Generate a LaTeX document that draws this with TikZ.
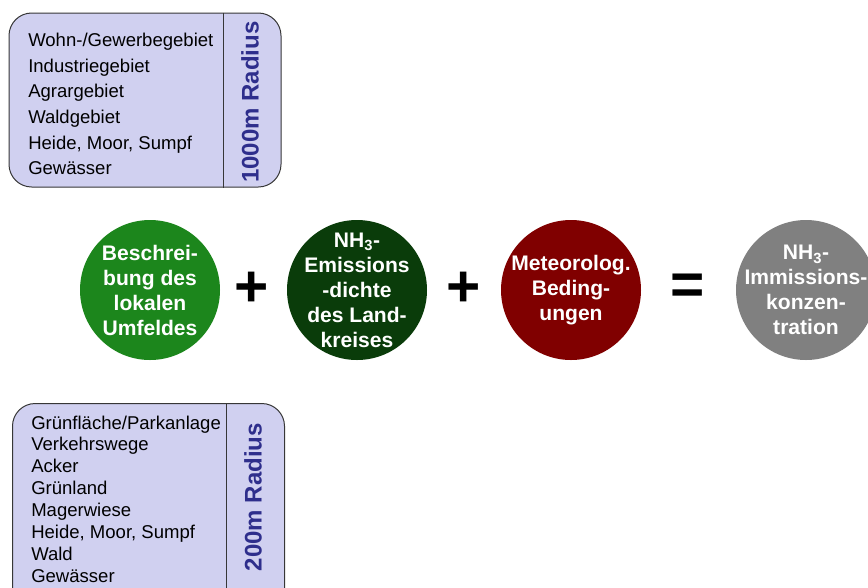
\documentclass[tikz,border=0pt]{standalone}
\usepackage{fontspec}
\setmainfont{Liberation Sans}
\usetikzlibrary{positioning}
\definecolor{umfeldGreen}{RGB}{28,134,28}
\definecolor{kreisDarkGreen}{RGB}{10,60,10}
\definecolor{meteoRed}{RGB}{128,0,0}
\definecolor{immisGray}{RGB}{128,128,128}
\definecolor{radiusFill}{RGB}{208,208,240}
\definecolor{radiusBlue}{RGB}{46,46,140}
\definecolor{radiusBorder}{RGB}{55,55,55}

\begin{document}
\begin{tikzpicture}[
  x=0.75pt, y=-0.75pt,
  listbox/.style={draw=radiusBorder, fill=radiusFill, rounded corners=17pt,
                  line width=0.75pt, inner sep=0pt},
  items/.style={align=left, anchor=west, inner sep=0pt},
  radiuslabel/.style={rotate=90, text=radiusBlue, inner sep=0pt,
                      font=\fontsize{18}{18}\selectfont\bfseries},
  factor/.style={circle, minimum size=105pt, inner sep=0pt},
  factortext/.style={inner sep=0pt, text=white, align=center,
                     font=\fontsize{15.8}{18.75}\selectfont\bfseries},
  op/.style={inner sep=0pt, font=\fontsize{44}{44}\selectfont\bfseries}
]
\clip (0,0) rectangle (868,587);

% 1000 m radius
\node[listbox, minimum width=204pt, minimum height=130.5pt] (box1000) at (145,100) {};
\coordinate (cut1000) at (223,0);
\draw[radiusBorder, line width=0.75pt] (box1000.north -| cut1000) -- (box1000.south -| cut1000);
\node[items, font=\fontsize{13.9}{19.2}\selectfont] (list1000) at (28,104)
  {Wohn-/Gewerbegebiet\\Industriegebiet\\Agrargebiet\\Waldgebiet\\Heide, Moor, Sumpf\\Gew\"asser};
\node[radiuslabel] (lab1000) at (250,102) {1000m Radius};

% 200 m radius
\node[listbox, minimum width=204pt, minimum height=165pt, anchor=north west] (box200) at (12,403) {};
\coordinate (cut200) at (226,0);
\draw[radiusBorder, line width=0.75pt] (box200.north -| cut200) -- (box200.south -| cut200);
\node[items, font=\fontsize{13.9}{16.4}\selectfont] (list200) at (31,499)
  {Gr\"unfl\"ache/Parkanlage\\Verkehrswege\\Acker\\Gr\"unland\\Magerwiese\\Heide, Moor, Sumpf\\Wald\\Gew\"asser};
\node[radiuslabel] (lab200) at (253,497) {200m Radius};

% factors
\node[factor, fill=umfeldGreen] (umfeld) at (150,290) {};
\node[factortext] (umfeldText) at (umfeld) {Beschrei-\\bung des\\lokalen\\Umfeldes};
\node[factor, fill=kreisDarkGreen] (kreis) at (357,290) {};
\node[factortext] (kreisText) at (kreis) {NH\textsubscript{3}-\\Emissions\\-dichte\\des Land-\\kreises};
\node[factor, fill=meteoRed] (meteo) at (571,290) {};
\node[factortext] (meteoText) at (meteo) {Meteorolog.\\Beding-\\ungen};
\node[factor, fill=immisGray] (immis) at (806,290) {};
\node[factortext] (immisText) at (immis) {NH\textsubscript{3}-\\Immissions-\\konzen-\\tration};

\node[op] (plusA) at (251.5,289) {+};
\node[op] (plusB) at (464,289) {+};
\node[op] (equal) at (688,289) {=};
\end{tikzpicture}
\end{document}
